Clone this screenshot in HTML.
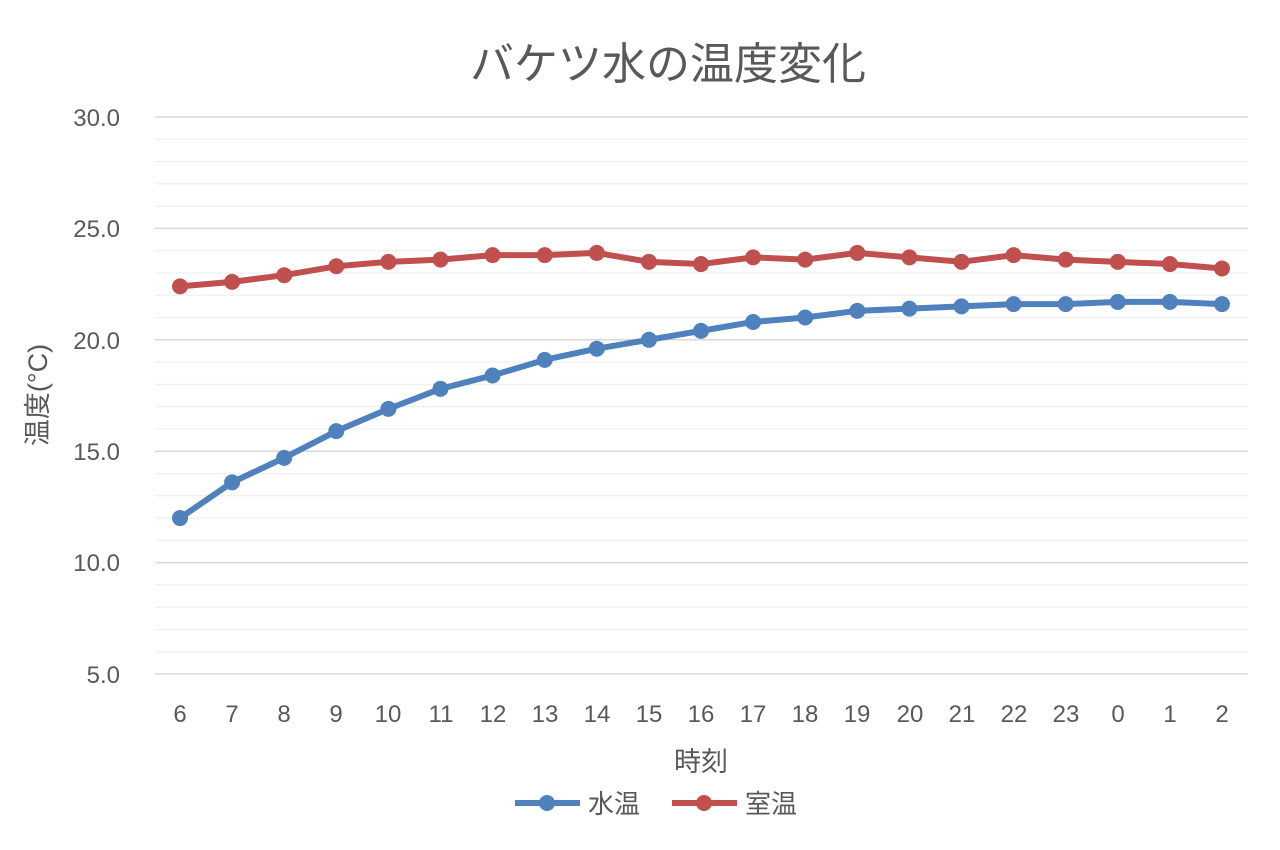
<!DOCTYPE html>
<html><head><meta charset="utf-8"><style>
html,body{margin:0;padding:0;background:#fff;}
svg{display:block;font-family:"Liberation Sans","Noto Sans CJK JP",sans-serif;}
</style></head><body>
<svg id="c" width="1280" height="850" viewBox="0 0 1280 850" xmlns="http://www.w3.org/2000/svg">
<rect width="1280" height="850" fill="#fff"/>
<text x="668" y="79" font-size="44" fill="#595959" text-anchor="middle">バケツ水の温度変化</text>
<g id="grid"></g>
<g font-size="24" fill="#595959" text-anchor="end">
<text x="120" y="126">30.0</text>
<text x="120" y="237">25.0</text>
<text x="120" y="349">20.0</text>
<text x="120" y="460">15.0</text>
<text x="120" y="571">10.0</text>
<text x="120" y="683">5.0</text>
</g>
<g font-size="24" fill="#595959" text-anchor="middle">
<text x="180" y="722">6</text><text x="232" y="722">7</text><text x="284" y="722">8</text><text x="336" y="722">9</text><text x="388" y="722">10</text><text x="441" y="722">11</text><text x="493" y="722">12</text><text x="545" y="722">13</text><text x="597" y="722">14</text><text x="649" y="722">15</text><text x="701" y="722">16</text><text x="753" y="722">17</text><text x="805" y="722">18</text><text x="857" y="722">19</text><text x="910" y="722">20</text><text x="962" y="722">21</text><text x="1014" y="722">22</text><text x="1066" y="722">23</text><text x="1118" y="722">0</text><text x="1170" y="722">1</text><text x="1222" y="722">2</text>
</g>
<text x="701" y="771" font-size="27" fill="#595959" text-anchor="middle">時刻</text>
<text transform="translate(47,395) rotate(-90)" font-size="27" fill="#595959" text-anchor="middle">温度(°C)</text>
<g id="series"></g>
<line x1="515" y1="803" x2="580" y2="803" stroke="#4f81bd" stroke-width="6"/>
<circle cx="547" cy="803" r="8" fill="#4f81bd"/>
<text x="588" y="813" font-size="26" fill="#595959">水温</text>
<line x1="672" y1="803" x2="737" y2="803" stroke="#c0504d" stroke-width="6"/>
<circle cx="704" cy="803" r="8" fill="#c0504d"/>
<text x="745" y="813" font-size="26" fill="#595959">室温</text>
</svg>
<script>
var ns="http://www.w3.org/2000/svg";
function y(v){return 674-(v-5)*22.28;}
var g=document.getElementById("grid");
for(var v=5;v<=30;v++){var l=document.createElementNS(ns,"line");l.setAttribute("x1",155);l.setAttribute("x2",1248);l.setAttribute("y1",y(v));l.setAttribute("y2",y(v));l.setAttribute("stroke",v%5==0?"#d9d9d9":"#efefef");l.setAttribute("stroke-width",v%5==0?1.5:1.2);g.appendChild(l);}
var w=[12.0,13.6,14.7,15.9,16.9,17.8,18.4,19.1,19.6,20.0,20.4,20.8,21.0,21.3,21.4,21.5,21.6,21.6,21.7,21.7,21.6];
var r=[22.4,22.6,22.9,23.3,23.5,23.6,23.8,23.8,23.9,23.5,23.4,23.7,23.6,23.9,23.7,23.5,23.8,23.6,23.5,23.4,23.2];
var s=document.getElementById("series");
function draw(d,c){var pts=d.map(function(v,i){return (180+i*52.1)+","+y(v);}).join(" ");
var p=document.createElementNS(ns,"polyline");p.setAttribute("points",pts);p.setAttribute("fill","none");p.setAttribute("stroke",c);p.setAttribute("stroke-width",6);p.setAttribute("stroke-linejoin","round");s.appendChild(p);
d.forEach(function(v,i){var k=document.createElementNS(ns,"circle");k.setAttribute("cx",180+i*52.1);k.setAttribute("cy",y(v));k.setAttribute("r",8);k.setAttribute("fill",c);s.appendChild(k);});}
draw(w,"#4f81bd");draw(r,"#c0504d");
</script>
</body></html>
